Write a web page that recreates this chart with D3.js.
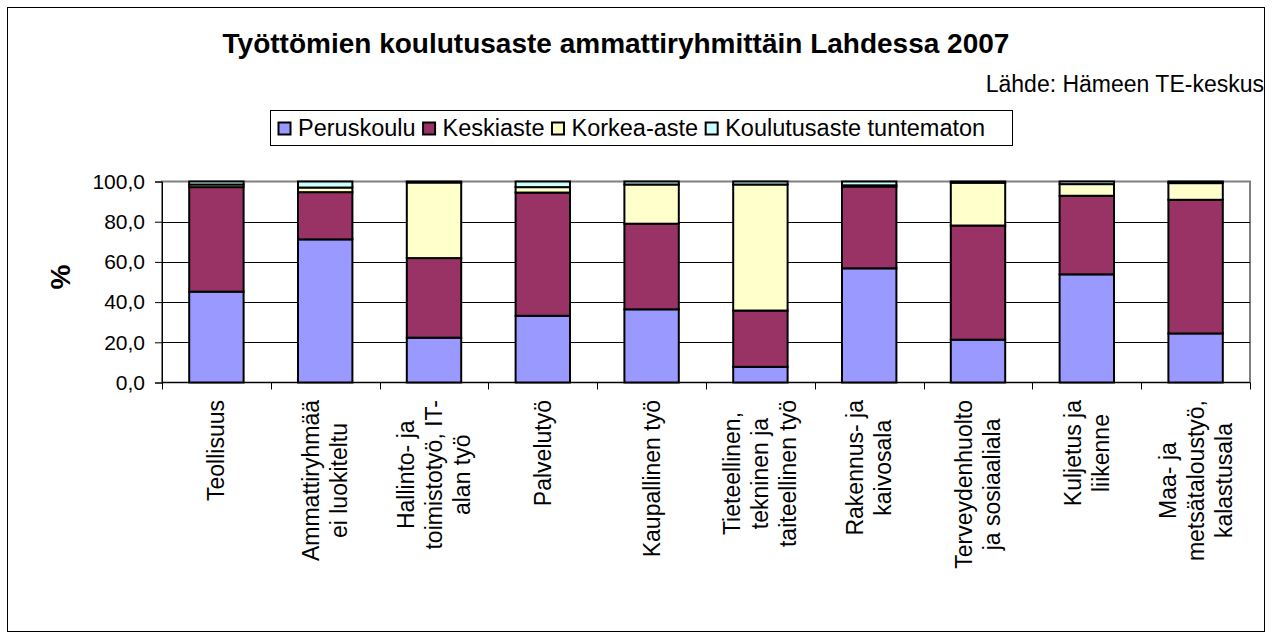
<!DOCTYPE html>
<html>
<head>
<meta charset="utf-8">
<script src="https://cdn.jsdelivr.net/npm/d3@7"></script>
<style>
  body { margin: 0; background: #fff; }
  svg text { font-family: Arial, "Liberation Sans", sans-serif; fill: #000; }
</style>
</head>
<body>
<svg id="chart" width="1272" height="638"></svg>
<script>
// categories (label lines) and series values, %
const categories = [
  ["Teollisuus"],
  ["Ammattiryhmää", "ei luokiteltu"],
  ["Hallinto- ja", "toimistotyö, IT-", "alan työ"],
  ["Palvelutyö"],
  ["Kaupallinen työ"],
  ["Tieteellinen,", "tekninen ja", "taiteellinen työ"],
  ["Rakennus- ja", "kaivosala"],
  ["Terveydenhuolto", "ja sosiaaliala"],
  ["Kuljetus ja", "liikenne"],
  ["Maa- ja", "metsätaloustyö,", "kalastusala"]
];
const seriesNames = ["Peruskoulu", "Keskiaste", "Korkea-aste", "Koulutusaste tuntematon"];
const peruskoulu = [45.2, 71.2, 22.3, 33.2, 36.4, 7.8, 56.8, 21.3, 53.8, 24.4];
const keskiaste  = [52.0, 23.5, 39.6, 61.3, 42.6, 28.0, 40.7, 56.8, 39.1, 66.5];
const korkea     = [1.3, 2.3, 37.6, 2.7, 19.5, 62.7, 0.6, 21.3, 5.8, 8.3];
const tuntematon = [1.5, 3.0, 0.5, 2.8, 1.5, 1.5, 1.9, 0.6, 1.3, 0.8];
const yTicks = [0, 20, 40, 60, 80, 100];

const colors = ["#9999ff", "#993366", "#ffffcc", "#ccffff"];

const svg = d3.select("#chart");
const plot = { left: 162, right: 1250, top: 181.5, bottom: 382.5 };

// outer chart border
svg.append("rect")
  .attr("x", 7.5).attr("y", 7.5)
  .attr("width", 1257).attr("height", 624)
  .attr("fill", "#fff").attr("stroke", "#000").attr("stroke-width", 1);

// title + source
svg.append("text")
  .attr("x", 616).attr("y", 53)
  .attr("text-anchor", "middle")
  .attr("font-size", 28).attr("font-weight", "bold")
  .text("Työttömien koulutusaste ammattiryhmittäin Lahdessa 2007");
svg.append("text")
  .attr("x", 1264).attr("y", 92)
  .attr("text-anchor", "end")
  .attr("font-size", 23)
  .text("Lähde: Hämeen TE-keskus");

// data table for the stack
const rows = categories.map((c, i) => ({
  key: i,
  [seriesNames[0]]: peruskoulu[i],
  [seriesNames[1]]: keskiaste[i],
  [seriesNames[2]]: korkea[i],
  [seriesNames[3]]: tuntematon[i]
}));
const stacked = d3.stack().keys(seriesNames)(rows);

const x = d3.scaleBand()
  .domain(d3.range(categories.length))
  .range([plot.left, plot.right])
  .paddingInner(0.5).paddingOuter(0.25);
const y = d3.scaleLinear().domain([0, 100]).range([plot.bottom, plot.top]);

// plot area + gridlines
svg.append("rect")
  .attr("x", plot.left).attr("y", plot.top)
  .attr("width", plot.right - plot.left)
  .attr("height", plot.bottom - plot.top)
  .attr("fill", "#fff").attr("stroke", "#808080").attr("stroke-width", 2);

svg.append("g").selectAll("line").data(yTicks.filter(d => d > 0 && d < 100))
  .join("line")
  .attr("x1", plot.left).attr("x2", plot.right)
  .attr("y1", d => Math.round(y(d)) + 0.5).attr("y2", d => Math.round(y(d)) + 0.5)
  .attr("stroke", "#000").attr("stroke-width", 1);

// y axis
const yAxis = svg.append("g")
  .attr("transform", `translate(${plot.left},0)`)
  .call(d3.axisLeft(y).tickValues(yTicks).tickSize(7).tickPadding(10)
    .tickFormat(d => d3.format(".1f")(d).replace(".", ",")));
yAxis.select(".domain").attr("stroke", "#000");
yAxis.selectAll("text").attr("font-size", 21)
  .attr("font-family", "Arial, 'Liberation Sans', sans-serif").attr("fill", "#000");

// x axis line + ticks between categories
const step = (plot.right - plot.left) / categories.length;
svg.append("line")
  .attr("x1", plot.left).attr("x2", plot.right)
  .attr("y1", plot.bottom).attr("y2", plot.bottom)
  .attr("stroke", "#000");
svg.append("g").selectAll("line").data(d3.range(categories.length + 1))
  .join("line")
  .attr("x1", d => Math.round(plot.left + d * step) + 0.5)
  .attr("x2", d => Math.round(plot.left + d * step) + 0.5)
  .attr("y1", plot.bottom).attr("y2", plot.bottom + 7)
  .attr("stroke", "#000");

// bars
svg.append("g").selectAll("g").data(stacked)
  .join("g")
  .attr("fill", (d, i) => colors[i])
  .selectAll("rect").data(d => d)
  .join("rect")
  .attr("x", d => x(d.data.key))
  .attr("width", x.bandwidth())
  .attr("y", d => y(d[1]))
  .attr("height", d => y(d[0]) - y(d[1]))
  .attr("stroke", "#000").attr("stroke-width", 2);

// category labels, rotated, lines centered, block starting just under the axis
const lh = 28;
const labels = svg.append("g").selectAll("g").data(categories)
  .join("g")
  .attr("transform", (d, i) => `translate(${x(i) + x.bandwidth() / 2},400) rotate(-90)`);
labels.each(function(lines) {
  const g = d3.select(this);
  const t = g.selectAll("text").data(lines)
    .join("text")
    .attr("y", (l, j) => (j - (lines.length - 1) / 2) * lh)
    .attr("dy", "0.35em")
    .attr("text-anchor", "middle")
    .attr("font-size", 23)
    .text(l => l);
  const w = d3.max(t.nodes(), n => n.getComputedTextLength());
  t.attr("x", -w / 2);
});

// y label
svg.append("text")
  .attr("transform", "translate(60,277) rotate(-90)")
  .attr("text-anchor", "middle")
  .attr("dy", "0.35em")
  .attr("font-size", 28).attr("font-weight", "bold")
  .text("%");

// legend
const legend = svg.append("g");
legend.append("rect")
  .attr("x", 270.5).attr("y", 110.5).attr("width", 742).attr("height", 35)
  .attr("fill", "#fff").attr("stroke", "#000");
let lx = 278;
seriesNames.forEach((name, i) => {
  legend.append("rect")
    .attr("x", lx + 0.5).attr("y", 122.5).attr("width", 12).attr("height", 12)
    .attr("fill", colors[i]).attr("stroke", "#000").attr("stroke-width", 2);
  const t = legend.append("text")
    .attr("x", lx + 20).attr("y", 136)
    .attr("font-size", 23.5).text(name);
  lx += 20 + t.node().getComputedTextLength() + 7;
});
</script>
</body>
</html>
